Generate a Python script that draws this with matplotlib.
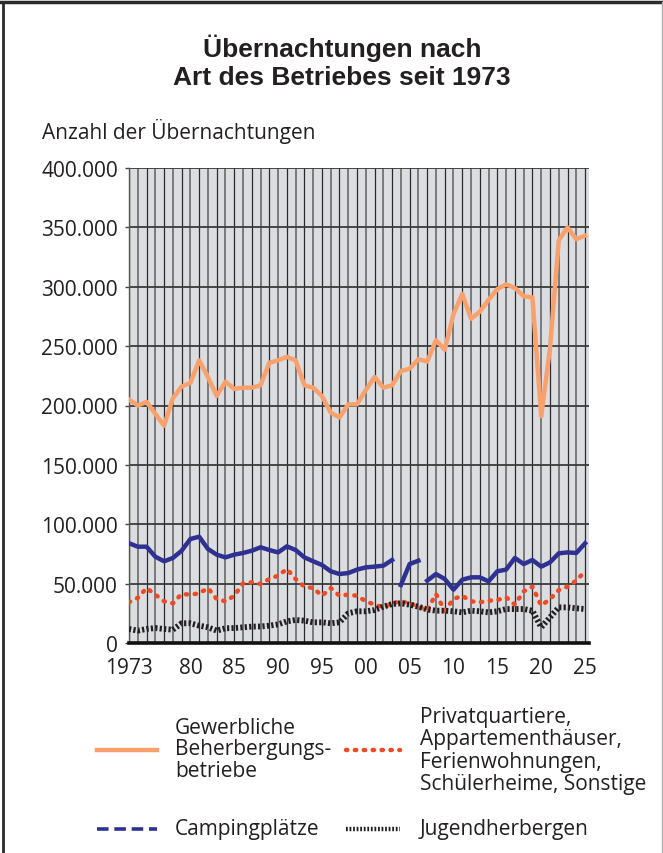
import matplotlib
matplotlib.use("Agg")
import matplotlib.pyplot as plt
from matplotlib.lines import Line2D
import numpy as np

years = list(range(1973, 2026))

gewerbliche = [205, 200, 203, 193, 183, 206, 216, 219, 238, 224, 208, 220, 214, 215, 215, 217,
               236, 238, 241, 238, 217, 215, 208, 194, 190, 201, 201,
               213, 224, 215, 217, 229, 231, 239, 237, 255, 247, 277, 294, 273, 279, 289,
               298, 302, 299, 292, 291, 191, 248, 339, 350, 340, 343]
camping = [84.0, 81.1, 81.1, 72.7, 68.8, 71.6, 77.7, 87.6, 89.5, 79.2, 74.4, 72.1, 74.4, 75.8,
           77.7, 80.6, 78.3, 76.3, 81.4, 78.3, 72.1, 68.8, 65.7, 60.4, 58.1, 58.9, 61.8, 63.7,
           64.3, 65.1, 69.9, 48.8, 66.5, 69.3, 52.5, 58.1, 53.9, 44.9, 53.3, 55.3, 55.3, 51.9,
           60.4, 61.8, 71.6, 66.5, 69.9, 64.3, 67.9, 75.5, 76.3, 75.8, 83.9]
privat = [34.3, 38, 46.3, 40.7, 35.1, 33.4, 41.3, 40.7, 41.8, 46.3, 37, 35.1, 39.8, 50.2, 51.1,
          49.7, 53.9, 56.7, 62.3, 53.9, 47.4, 46.3, 39.8, 46.3, 39.8, 40.7, 39.8, 35.1, 32.3,
          30.0, 33.4, 35.1, 33.4, 30.6, 27.5, 41.3, 27.2, 37, 39.8, 35.1, 34.3, 35.6, 36.2,
          38.5, 32.3, 43.5, 47.5, 31.5, 37, 44.5, 47.5, 52.5, 60.5]
jugend = [11.8, 10.4, 11.8, 12.6, 11.8, 11.2, 16.6, 16.6, 14.6, 13.2, 10.4, 12.4, 12.6, 13.2,
          13.8, 13.9, 14.6, 15.7, 18.2, 19.4, 18.8, 17.4, 17.4, 16.6, 17.4, 25, 26.7, 26.7,
          27.8, 30.6, 32.8, 33.4, 32.3, 30.6, 28.2, 27.2, 27.2, 26.7, 25.8, 27.2, 26.7, 25.8,
          26.7, 28.6, 28.6, 28.6, 27.2, 13.2, 21.6, 30, 30, 29.2, 28.6]
# Camping line is drawn in pieces (gaps after 2003 and 2006)
camping_breaks = [2003, 2006]

xtick_pos = [1973, 1980, 1985, 1990, 1995, 2000, 2005, 2010, 2015, 2020, 2025]
xtick_lab = ["1973", "80", "85", "90", "95", "00", "05", "10", "15", "20", "25"]
ytick_pos = list(range(0, 400001, 50000))

title = "Übernachtungen nach\nArt des Betriebes seit 1973"
ylabel = "Anzahl der Übernachtungen"
labels = ["Gewerbliche\nBeherbergungs-\nbetriebe",
          "Privatquartiere,\nAppartementhäuser,\nFerienwohnungen,\nSchülerheime, Sonstige",
          "Campingplätze", "Jugendherbergen"]

C_OR = "#f8a16c"
C_RED = "#ef4a23"
C_BLUE = "#2e3192"
C_BLK = "#231f20"
C_TXT = "#231f20"

BODY = ["Open Sans", "DejaVu Sans"]
TITLEF = ["Liberation Sans Narrow", "Liberation Sans", "DejaVu Sans"]
FS = 15

W, H = 663, 854
fig = plt.figure(figsize=(W / 100, H / 100), dpi=100)
ax = fig.add_axes([129 / W, 1 - 644 / H, 460 / W, 475 / H])
ax.set_facecolor("#dcdde0")

yrs = np.array(years)
ax.set_xlim(1973, 2025.45)
ax.set_ylim(0, 400000)

# grid
for i, y in enumerate(years):
    if i % 2 == 0:
        ax.axvline(y, color="#2a2a2a", lw=0.9, zorder=1)
    else:
        ax.axvline(y, color="#7a7a7a", lw=1.4, zorder=1)
for v in ytick_pos[1:]:
    ax.axhline(v, color="#3a3a3a", lw=1.3, zorder=1)

RED_LS = (0, (0.3, 1.7))
# series
ax.plot(yrs, np.array(gewerbliche) * 1000, color=C_OR, lw=3.2, zorder=5,
        solid_joinstyle="round")
cam = np.array(camping) * 1000
idx = [0] + [years.index(b) + 1 for b in camping_breaks] + [len(years)]
for a, b in zip(idx[:-1], idx[1:]):
    ax.plot(yrs[a:b], cam[a:b], color=C_BLUE, lw=3.2, zorder=4, solid_joinstyle="round")
ax.plot(yrs, np.array(privat) * 1000, color=C_RED, lw=3.2, zorder=4,
        linestyle=RED_LS, dash_capstyle="round")
ax.plot(yrs, np.array(jugend) * 1000, color=C_BLK, lw=4.2, zorder=4,
        linestyle=(0, (0.38, 0.38)), dash_capstyle="butt")

# axes styling
for s in ["top", "right"]:
    ax.spines[s].set_visible(False)
ax.spines["left"].set_color("#555555")
ax.spines["left"].set_linewidth(1.0)
ax.spines["bottom"].set_color("#111111")
ax.spines["bottom"].set_linewidth(2.6)
ax.spines["bottom"].set_zorder(6)

ax.set_yticks(ytick_pos)
ax.set_yticklabels(["0" if v == 0 else f"{v:,}".replace(",", ".") for v in ytick_pos],
                   fontsize=FS, family=BODY, color=C_TXT)
ax.tick_params(axis="y", length=3, width=1, color="#444444", pad=5)
ax.set_xticks(xtick_pos)
ax.set_xticklabels(xtick_lab, fontsize=FS, family=BODY, color=C_TXT)
ax.tick_params(axis="x", length=0, pad=10)

# title and y label
fig.text(342 / W, 1 - 62 / H, title, ha="center", va="center", fontsize=19,
         fontweight="bold", family=TITLEF, color=C_TXT, linespacing=1.2)
fig.text(42 / W, 1 - 132 / H, ylabel, ha="left", va="center", fontsize=FS,
         family=BODY, color=C_TXT)

# legend
def leg_line(x0, x1, y, **kw):
    fig.add_artist(Line2D([x0 / W, x1 / W], [1 - y / H, 1 - y / H], transform=fig.transFigure, **kw))

leg_line(97, 157, 751, color=C_OR, lw=3.2)
leg_line(346, 400, 751, color=C_RED, lw=3.2, linestyle=RED_LS, dash_capstyle="round")
leg_line(97, 157, 830, color=C_BLUE, lw=2.6, linestyle=(0, (3.2, 1.6)))
leg_line(346, 400, 830, color=C_BLK, lw=3.2, linestyle=(0, (0.4, 0.4)))

fig.text(175 / W, 1 - 750 / H, labels[0], ha="left", va="center", fontsize=FS,
         family=BODY, color=C_TXT, linespacing=1.05)
fig.text(420 / W, 1 - 751 / H, labels[1], ha="left", va="center", fontsize=FS,
         family=BODY, color=C_TXT, linespacing=1.1)
fig.text(175 / W, 1 - 830 / H, labels[2], ha="left", va="center", fontsize=FS,
         family=BODY, color=C_TXT)
fig.text(420 / W, 1 - 830 / H, labels[3], ha="left", va="center", fontsize=FS,
         family=BODY, color=C_TXT)

# frame
fig.add_artist(Line2D([0, 1], [1 - 3 / H, 1 - 3 / H], transform=fig.transFigure,
                      color="#2a2a2a", lw=2.5))
fig.add_artist(Line2D([3 / W, 3 / W], [0, 1 - 3 / H], transform=fig.transFigure,
                      color="#2a2a2a", lw=2.0))
fig.add_artist(Line2D([661.5 / W, 661.5 / W], [0, 1 - 3 / H], transform=fig.transFigure,
                      color="#aaaaaa", lw=1.0))

fig.savefig("out.png", dpi=100)
